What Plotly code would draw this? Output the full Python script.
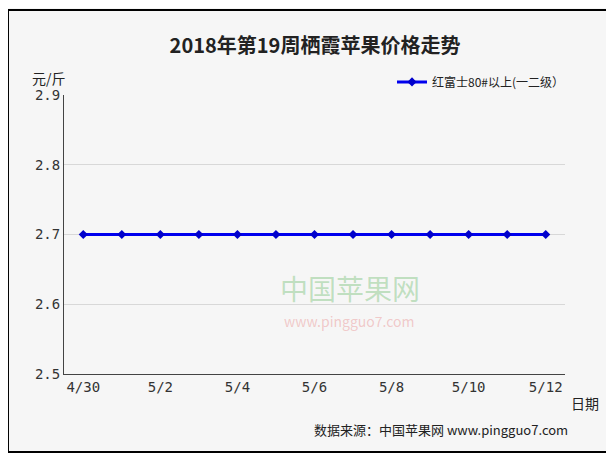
import plotly.graph_objects as go

dates = ["4/30","5/1","5/2","5/3","5/4","5/5","5/6","5/7","5/8","5/9","5/10","5/11","5/12"]
prices = [2.7]*13
tick_labels = ["4/30","5/2","5/4","5/6","5/8","5/10","5/12"]
series_name = "红富士80#以上(一二级）"

font = "Noto Sans CJK SC"
fig = go.Figure()
fig.add_trace(go.Scatter(x=list(range(len(dates))), y=prices, mode="lines+markers",
    name=series_name, line=dict(color="#0000ee", width=3),
    marker=dict(symbol="diamond", size=7, color="#0000cc")))
fig.update_layout(
    width=614, height=453, margin=dict(l=56, r=57, t=87, b=87),
    paper_bgcolor="#f6f6f6", plot_bgcolor="#f6f6f6",
    font=dict(family=font, size=13, color="#222"),
    title=dict(text="<b>2018年第19周栖霞苹果价格走势</b>", x=0.5, y=0.916, xanchor="center",
               yanchor="middle", font=dict(size=20, color="#222")),
    showlegend=True,
    legend=dict(x=1.01, y=1.047, xanchor="right", yanchor="middle", font=dict(size=12),
                bgcolor="rgba(0,0,0,0)"),
    xaxis=dict(range=[-0.5, 12.5], tickmode="array",
               tickvals=[0,2,4,6,8,10,12], ticktext=tick_labels,
               showgrid=False, showline=True, linecolor="#444", ticks="",
               zeroline=False, tickfont=dict(family="Liberation Sans Narrow, DejaVu Sans Mono", size=14, color="#333")),
    yaxis=dict(range=[2.5, 2.9], dtick=0.1, tickformat=".1f", showgrid=True, gridcolor="#d8d8d8",
               showline=True, linecolor="#444", zeroline=False, ticks="",
               tickfont=dict(family="DejaVu Sans Mono", size=14, color="#333")),
    shapes=[dict(type="rect", xref="paper", yref="paper", x0=-0.1118, x1=1.0958, y0=-0.2796, y1=1.3047,
                 line=dict(color="#000", width=2))],
    annotations=[
        dict(text="元/斤", xref="paper", yref="paper", x=-0.068, y=1.061, showarrow=False,
             xanchor="left", yanchor="middle", font=dict(size=14)),
        dict(text="日期", xref="paper", yref="paper", x=1.008, y=-0.104, showarrow=False,
             xanchor="left", yanchor="middle", font=dict(size=14)),
        dict(text="数据来源：中国苹果网 www.pingguo7.com", xref="paper", yref="paper", x=1.01, y=-0.2,
             showarrow=False, xanchor="right", yanchor="middle", font=dict(size=13)),
        dict(text="中国苹果网", xref="paper", yref="paper", x=0.57, y=0.31, showarrow=False,
             yanchor="middle", font=dict(size=28, color="rgba(90,180,90,0.35)")),
        dict(text="www.pingguo7.com", xref="paper", yref="paper", x=0.57, y=0.19, showarrow=False,
             yanchor="middle", font=dict(size=14, color="rgba(230,130,130,0.4)")),
    ],
)
fig.write_html("out.html")
